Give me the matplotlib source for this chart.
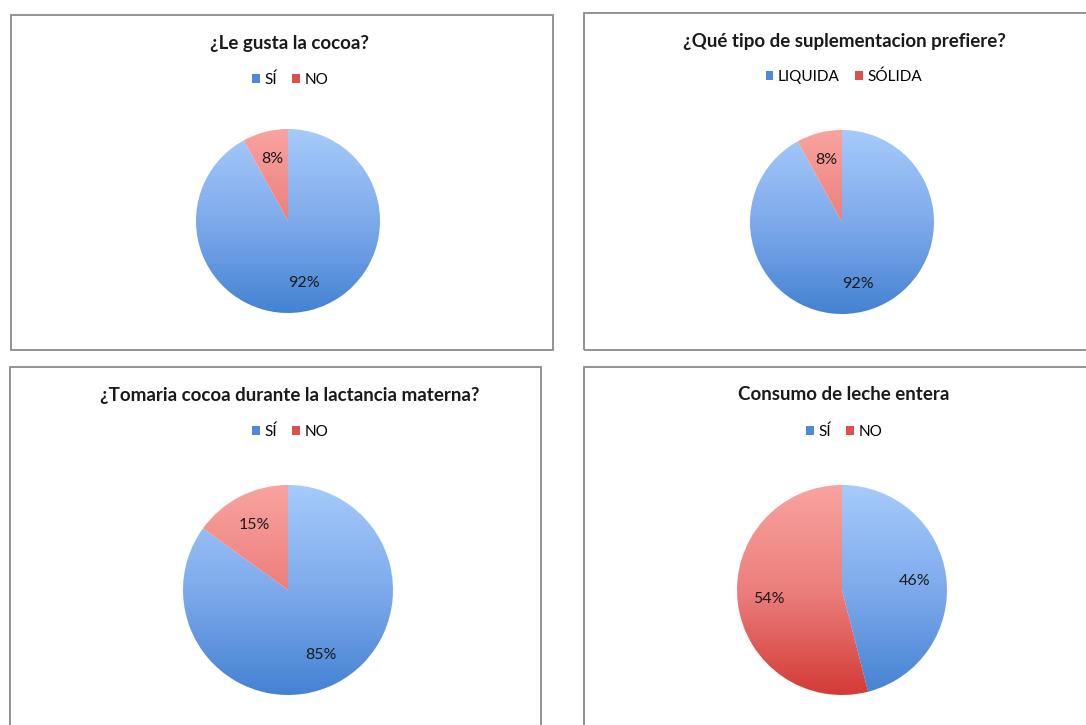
import numpy as np
import matplotlib
matplotlib.use("Agg")
import matplotlib.pyplot as plt
from matplotlib.patches import Rectangle, Patch
from matplotlib.colors import LinearSegmentedColormap

plt.rcParams['font.family'] = ['Lato', 'DejaVu Sans']

# data
titles = ["¿Le gusta la cocoa?",
          "¿Qué tipo de suplementacion prefiere?",
          "¿Tomaria cocoa durante la lactancia materna?",
          "Consumo de leche entera"]
labels1 = ["SÍ", "NO"]
labels2 = ["LIQUIDA", "SÓLIDA"]
labels3 = ["SÍ", "NO"]
labels4 = ["SÍ", "NO"]
values1 = [92, 8]
values2 = [92, 8]
values3 = [85, 15]
values4 = [46, 54]

W, H = 1086, 725
fig = plt.figure(figsize=(W / 100, H / 100), dpi=100)
fig.patch.set_facecolor("white")

def fx(x): return x / W
def fy(y): return 1 - y / H

def px_axes(x0, y0, w, h):
    return fig.add_axes([fx(x0), fy(y0 + h), w / W, h / H])

blue_cm = LinearSegmentedColormap.from_list("b", ["#a6cbfb", "#7eaaec", "#4482d2"])
red_cm = LinearSegmentedColormap.from_list("r", ["#f9a3a0", "#ec7f7c", "#d33b37"])
solid = ["#4f8ad6", "#dc4f4b"]

# panel frames (x0, y0, x1, y1) in pixels
frames = [(11, 15, 553, 350), (584, 13, 1090, 350), (10, 367, 541, 730), (584, 367, 1090, 730)]
for x0, y0, x1, y1 in frames:
    fig.patches.append(Rectangle((fx(x0), fy(y1)), (x1 - x0) / W, (y1 - y0) / H,
                                 transform=fig.transFigure, fill=False,
                                 edgecolor="#8a8a8a", linewidth=1.3))

# pie centers and radii in pixels
pies = [(288, 221, 92), (842, 222, 92), (288, 590, 105), (842, 590, 105)]
title_y = [44, 41, 396, 395]
legend_y = [80, 77, 432, 432]
all_vals = [values1, values2, values3, values4]
all_labs = [labels1, labels2, labels3, labels4]

grad = np.linspace(0, 1, 256).reshape(-1, 1)

for i in range(4):
    cx, cy, r = pies[i]
    ax = px_axes(cx - r, cy - r, 2 * r, 2 * r)
    wedges, texts, autotexts = ax.pie(all_vals[i], startangle=90, counterclock=False,
                                      colors=["none", "none"], autopct="%1.0f%%",
                                      pctdistance=0.7, radius=1,
                                      textprops=dict(fontsize=11.5, color="#1a1a1a"))
    for w, cm in zip(wedges, [blue_cm, red_cm]):
        im = ax.imshow(grad, cmap=cm, extent=[-1, 1, -1, 1], aspect="auto",
                       origin="upper", zorder=0.5)
        im.set_clip_path(w)
    for t in autotexts:
        t.set_zorder(5)
    ax.set_xlim(-1, 1)
    ax.set_ylim(-1, 1)
    ax.axis("off")

    fig.text(fx(cx + 2), fy(title_y[i]), titles[i], ha="center", va="center",
             fontsize=13.5, fontweight="bold", color="#1a1a1a")
    handles = [Patch(facecolor=solid[0]), Patch(facecolor=solid[1])]
    fig.legend(handles, all_labs[i], loc="center", bbox_to_anchor=(fx(cx + 2), fy(legend_y[i])),
               ncol=2, frameon=False, fontsize=11, handlelength=0.5, handleheight=0.5,
               handletextpad=0.3, columnspacing=1.0)

fig.savefig("out.png", dpi=100, facecolor="white")
